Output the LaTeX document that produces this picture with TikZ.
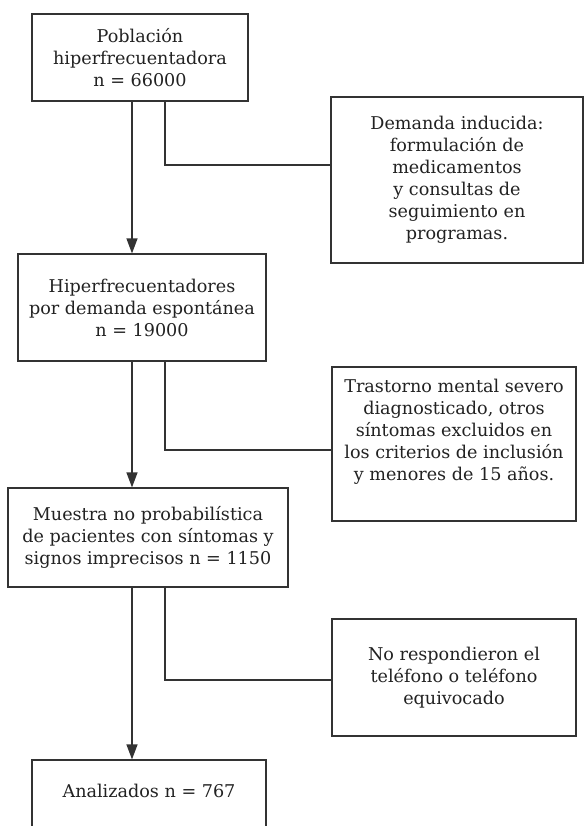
\documentclass[tikz,border=0pt]{standalone}
\usepackage{fontspec}
\setmainfont{DejaVu Serif}
\usetikzlibrary{arrows.meta}
\definecolor{ink}{HTML}{222222}
\definecolor{linecol}{HTML}{333333}
\tikzset{
  box/.style={draw=linecol, line width=0.6pt, rectangle, inner sep=0pt},
  txt/.style={align=center, text=ink, font=\fontsize{8.8}{11}\selectfont, inner sep=0pt},
  conn/.style={draw=linecol, line width=0.6pt},
  arr/.style={conn, -{Triangle[length=7.5pt,width=5.5pt]}}
}
\begin{document}
\begin{tikzpicture}[x=0.5pt,y=-0.5pt]
\useasboundingbox (0,0) rectangle (584,826);
\clip (0,0) rectangle (584,826);
\fill[white] (0,0) rectangle (584,826);
% boxes
\node[box, minimum width=108pt, minimum height=43.5pt] (b1) at (140,57.5) {};
\node[txt] (t1) at (b1.center) {Población\\hiperfrecuentadora\\n = 66000};
\node[box, minimum width=126pt, minimum height=83pt] (d1) at (457,180) {};
\node[txt] (s1) at (d1.center) {Demanda inducida:\\formulación de\\medicamentos\\y consultas de\\seguimiento en\\programas.};
\node[box, minimum width=124pt, minimum height=53.5pt] (b2) at (142,307.5) {};
\node[txt] (t2) at (b2.center) {Hiperfrecuentadores\\por demanda espontánea\\n = 19000};
\node[box, minimum width=122pt, minimum height=77pt] (d2) at (454,444) {};
\node[txt] (s2) at ([yshift=6pt]d2.center) {Trastorno mental severo\\diagnosticado, otros\\síntomas excluidos en\\los criterios de inclusión\\y menores de 15 años.};
\node[box, minimum width=140pt, minimum height=49.5pt] (b3) at (148,537.5) {};
\node[txt] (t3) at (b3.center) {Muestra no probabilística\\de pacientes con síntomas y\\signos imprecisos n = 1150};
\node[box, minimum width=122pt, minimum height=58.5pt] (d3) at (454,677.5) {};
\node[txt] (s3) at (d3.center) {No respondieron el\\teléfono o teléfono\\equivocado};
\node[box, minimum width=117pt, minimum height=66pt] (b4) at (149,826) {};
\node[txt] (t4) at (149,791) {Analizados n = 767};
% connector coordinates
\coordinate (ax) at (132,0);
\coordinate (j1) at (165,165);
\coordinate (j2) at (165,450);
\coordinate (j3) at (165,680);
% main arrows
\draw[arr] (b1.south -| ax) -- (b2.north -| ax);
\draw[arr] (b2.south -| ax) -- (b3.north -| ax);
\draw[arr] (b3.south -| ax) -- (b4.north -| ax);
% side branches
\draw[conn] (b1.south -| j1) -- (j1) -- (j1 -| d1.west);
\draw[conn] (b2.south -| j2) -- (j2) -- (j2 -| d2.west);
\draw[conn] (b3.south -| j3) -- (j3) -- (j3 -| d3.west);
\end{tikzpicture}
\end{document}
